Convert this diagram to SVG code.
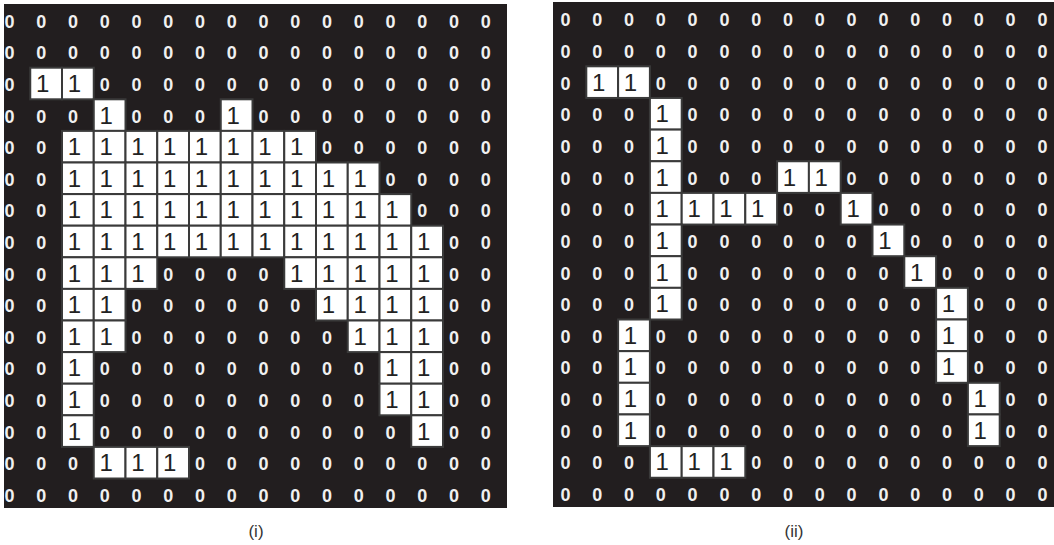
<svg xmlns="http://www.w3.org/2000/svg" width="1054" height="545" viewBox="0 0 1054 545">
<style>
.bg{fill:#221e1f}
.c{fill:#fff;stroke:#3a3a3a;stroke-width:2}
.z{font-family:"Liberation Sans",Arial,sans-serif;font-weight:bold;font-size:18px;fill:#f0f0f0;text-anchor:middle}
.o{font-family:"Liberation Sans",Arial,sans-serif;font-size:24px;fill:#222;text-anchor:middle}
.lbl{font-family:"Liberation Sans",Arial,sans-serif;font-size:17px;fill:#333;text-anchor:middle}
</style>
<defs>
<rect id="cl" class="c" width="31.75" height="31.6"/>
<rect id="cr" class="c" width="31.8" height="31.65"/>
</defs>
<rect width="1054" height="545" fill="#fff"/>

<g id="panel-i">
<rect class="bg" x="4" y="4" width="503" height="504"/>
<g id="cells-i">
<use href="#cl" x="30.25" y="67.7"/><use href="#cl" x="62" y="67.7"/>
<use href="#cl" x="93.75" y="99.3"/><use href="#cl" x="220.75" y="99.3"/>
<use href="#cl" x="62" y="130.9"/><use href="#cl" x="93.75" y="130.9"/><use href="#cl" x="125.5" y="130.9"/><use href="#cl" x="157.25" y="130.9"/><use href="#cl" x="189" y="130.9"/><use href="#cl" x="220.75" y="130.9"/><use href="#cl" x="252.5" y="130.9"/><use href="#cl" x="284.25" y="130.9"/>
<use href="#cl" x="62" y="162.5"/><use href="#cl" x="93.75" y="162.5"/><use href="#cl" x="125.5" y="162.5"/><use href="#cl" x="157.25" y="162.5"/><use href="#cl" x="189" y="162.5"/><use href="#cl" x="220.75" y="162.5"/><use href="#cl" x="252.5" y="162.5"/><use href="#cl" x="284.25" y="162.5"/><use href="#cl" x="316" y="162.5"/><use href="#cl" x="347.75" y="162.5"/>
<use href="#cl" x="62" y="194.1"/><use href="#cl" x="93.75" y="194.1"/><use href="#cl" x="125.5" y="194.1"/><use href="#cl" x="157.25" y="194.1"/><use href="#cl" x="189" y="194.1"/><use href="#cl" x="220.75" y="194.1"/><use href="#cl" x="252.5" y="194.1"/><use href="#cl" x="284.25" y="194.1"/><use href="#cl" x="316" y="194.1"/><use href="#cl" x="347.75" y="194.1"/><use href="#cl" x="379.5" y="194.1"/>
<use href="#cl" x="62" y="225.7"/><use href="#cl" x="93.75" y="225.7"/><use href="#cl" x="125.5" y="225.7"/><use href="#cl" x="157.25" y="225.7"/><use href="#cl" x="189" y="225.7"/><use href="#cl" x="220.75" y="225.7"/><use href="#cl" x="252.5" y="225.7"/><use href="#cl" x="284.25" y="225.7"/><use href="#cl" x="316" y="225.7"/><use href="#cl" x="347.75" y="225.7"/><use href="#cl" x="379.5" y="225.7"/><use href="#cl" x="411.25" y="225.7"/>
<use href="#cl" x="62" y="257.3"/><use href="#cl" x="93.75" y="257.3"/><use href="#cl" x="125.5" y="257.3"/><use href="#cl" x="284.25" y="257.3"/><use href="#cl" x="316" y="257.3"/><use href="#cl" x="347.75" y="257.3"/><use href="#cl" x="379.5" y="257.3"/><use href="#cl" x="411.25" y="257.3"/>
<use href="#cl" x="62" y="288.9"/><use href="#cl" x="93.75" y="288.9"/><use href="#cl" x="316" y="288.9"/><use href="#cl" x="347.75" y="288.9"/><use href="#cl" x="379.5" y="288.9"/><use href="#cl" x="411.25" y="288.9"/>
<use href="#cl" x="62" y="320.5"/><use href="#cl" x="93.75" y="320.5"/><use href="#cl" x="347.75" y="320.5"/><use href="#cl" x="379.5" y="320.5"/><use href="#cl" x="411.25" y="320.5"/>
<use href="#cl" x="62" y="352.1"/><use href="#cl" x="379.5" y="352.1"/><use href="#cl" x="411.25" y="352.1"/>
<use href="#cl" x="62" y="383.7"/><use href="#cl" x="379.5" y="383.7"/><use href="#cl" x="411.25" y="383.7"/>
<use href="#cl" x="62" y="415.3"/><use href="#cl" x="411.25" y="415.3"/>
<use href="#cl" x="93.75" y="446.9"/><use href="#cl" x="125.5" y="446.9"/><use href="#cl" x="157.25" y="446.9"/>
</g>
<g id="digits-i">
<text class="z" x="9.4 41.2 72.9 104.7 136.4 168.2 199.9 231.7 263.4 295.2 326.9 358.7 390.4 422.2 453.9 485.7" y="27.8">0000000000000000</text>
<text class="z" x="9.4 41.2 72.9 104.7 136.4 168.2 199.9 231.7 263.4 295.2 326.9 358.7 390.4 422.2 453.9 485.7" y="59.4">0000000000000000</text>
<text class="z" x="9.4" y="91">0</text><text class="o" x="42.7 74.4" y="92">11</text><text class="z" x="104.7 136.4 168.2 199.9 231.7 263.4 295.2 326.9 358.7 390.4 422.2 453.9 485.7" y="91">0000000000000</text>
<text class="z" x="9.4 41.2 72.9" y="122.6">000</text><text class="o" x="106.2" y="123.6">1</text><text class="z" x="136.4 168.2 199.9" y="122.6">000</text><text class="o" x="233.2" y="123.6">1</text><text class="z" x="263.4 295.2 326.9 358.7 390.4 422.2 453.9 485.7" y="122.6">00000000</text>
<text class="z" x="9.4 41.2" y="154.2">00</text><text class="o" x="74.4 106.2 137.9 169.7 201.4 233.2 264.9 296.7" y="155.2">11111111</text><text class="z" x="326.9 358.7 390.4 422.2 453.9 485.7" y="154.2">000000</text>
<text class="z" x="9.4 41.2" y="185.8">00</text><text class="o" x="74.4 106.2 137.9 169.7 201.4 233.2 264.9 296.7 328.4 360.2" y="186.8">1111111111</text><text class="z" x="390.4 422.2 453.9 485.7" y="185.8">0000</text>
<text class="z" x="9.4 41.2" y="217.4">00</text><text class="o" x="74.4 106.2 137.9 169.7 201.4 233.2 264.9 296.7 328.4 360.2 391.9" y="218.4">11111111111</text><text class="z" x="422.2 453.9 485.7" y="217.4">000</text>
<text class="z" x="9.4 41.2" y="249">00</text><text class="o" x="74.4 106.2 137.9 169.7 201.4 233.2 264.9 296.7 328.4 360.2 391.9 423.7" y="250">111111111111</text><text class="z" x="453.9 485.7" y="249">00</text>
<text class="z" x="9.4 41.2" y="280.6">00</text><text class="o" x="74.4 106.2 137.9" y="281.6">111</text><text class="z" x="168.2 199.9 231.7 263.4" y="280.6">0000</text><text class="o" x="296.7 328.4 360.2 391.9 423.7" y="281.6">11111</text><text class="z" x="453.9 485.7" y="280.6">00</text>
<text class="z" x="9.4 41.2" y="312.2">00</text><text class="o" x="74.4 106.2" y="313.2">11</text><text class="z" x="136.4 168.2 199.9 231.7 263.4 295.2" y="312.2">000000</text><text class="o" x="328.4 360.2 391.9 423.7" y="313.2">1111</text><text class="z" x="453.9 485.7" y="312.2">00</text>
<text class="z" x="9.4 41.2" y="343.8">00</text><text class="o" x="74.4 106.2" y="344.8">11</text><text class="z" x="136.4 168.2 199.9 231.7 263.4 295.2 326.9" y="343.8">0000000</text><text class="o" x="360.2 391.9 423.7" y="344.8">111</text><text class="z" x="453.9 485.7" y="343.8">00</text>
<text class="z" x="9.4 41.2" y="375.4">00</text><text class="o" x="74.4" y="376.4">1</text><text class="z" x="104.7 136.4 168.2 199.9 231.7 263.4 295.2 326.9 358.7" y="375.4">000000000</text><text class="o" x="391.9 423.7" y="376.4">11</text><text class="z" x="453.9 485.7" y="375.4">00</text>
<text class="z" x="9.4 41.2" y="407">00</text><text class="o" x="74.4" y="408">1</text><text class="z" x="104.7 136.4 168.2 199.9 231.7 263.4 295.2 326.9 358.7" y="407">000000000</text><text class="o" x="391.9 423.7" y="408">11</text><text class="z" x="453.9 485.7" y="407">00</text>
<text class="z" x="9.4 41.2" y="438.6">00</text><text class="o" x="74.4" y="439.6">1</text><text class="z" x="104.7 136.4 168.2 199.9 231.7 263.4 295.2 326.9 358.7 390.4" y="438.6">0000000000</text><text class="o" x="423.7" y="439.6">1</text><text class="z" x="453.9 485.7" y="438.6">00</text>
<text class="z" x="9.4 41.2 72.9" y="470.2">000</text><text class="o" x="106.2 137.9 169.7" y="471.2">111</text><text class="z" x="199.9 231.7 263.4 295.2 326.9 358.7 390.4 422.2 453.9 485.7" y="470.2">0000000000</text>
<text class="z" x="9.4 41.2 72.9 104.7 136.4 168.2 199.9 231.7 263.4 295.2 326.9 358.7 390.4 422.2 453.9 485.7" y="501.8">0000000000000000</text>
</g>
<text id="label-i" class="lbl" x="256" y="537">(i)</text>
</g>

<g id="panel-ii">
<rect class="bg" x="553" y="2" width="501" height="505"/>
<g id="cells-ii">
<use href="#cr" x="586.3" y="66.3"/><use href="#cr" x="618.1" y="66.3"/>
<use href="#cr" x="649.9" y="97.95"/>
<use href="#cr" x="649.9" y="129.6"/>
<use href="#cr" x="649.9" y="161.25"/><use href="#cr" x="777.1" y="161.25"/><use href="#cr" x="808.9" y="161.25"/>
<use href="#cr" x="649.9" y="192.9"/><use href="#cr" x="681.7" y="192.9"/><use href="#cr" x="713.5" y="192.9"/><use href="#cr" x="745.3" y="192.9"/><use href="#cr" x="840.7" y="192.9"/>
<use href="#cr" x="649.9" y="224.55"/><use href="#cr" x="872.5" y="224.55"/>
<use href="#cr" x="649.9" y="256.2"/><use href="#cr" x="904.3" y="256.2"/>
<use href="#cr" x="649.9" y="287.85"/><use href="#cr" x="936.1" y="287.85"/>
<use href="#cr" x="618.1" y="319.5"/><use href="#cr" x="936.1" y="319.5"/>
<use href="#cr" x="618.1" y="351.15"/><use href="#cr" x="936.1" y="351.15"/>
<use href="#cr" x="618.1" y="382.8"/><use href="#cr" x="967.9" y="382.8"/>
<use href="#cr" x="618.1" y="414.45"/><use href="#cr" x="967.9" y="414.45"/>
<use href="#cr" x="649.9" y="446.1"/><use href="#cr" x="681.7" y="446.1"/><use href="#cr" x="713.5" y="446.1"/>
</g>
<g id="digits-ii">
<text class="z" x="565.4 597.2 629 660.8 692.6 724.4 756.2 788 819.8 851.6 883.4 915.2 947 978.8 1010.6 1042.4" y="26.3">0000000000000000</text>
<text class="z" x="565.4 597.2 629 660.8 692.6 724.4 756.2 788 819.8 851.6 883.4 915.2 947 978.8 1010.6 1042.4" y="57.95">0000000000000000</text>
<text class="z" x="565.4" y="89.6">0</text><text class="o" x="598.7 630.5" y="90.6">11</text><text class="z" x="660.8 692.6 724.4 756.2 788 819.8 851.6 883.4 915.2 947 978.8 1010.6 1042.4" y="89.6">0000000000000</text>
<text class="z" x="565.4 597.2 629" y="121.25">000</text><text class="o" x="662.3" y="122.25">1</text><text class="z" x="692.6 724.4 756.2 788 819.8 851.6 883.4 915.2 947 978.8 1010.6 1042.4" y="121.25">000000000000</text>
<text class="z" x="565.4 597.2 629" y="152.9">000</text><text class="o" x="662.3" y="153.9">1</text><text class="z" x="692.6 724.4 756.2 788 819.8 851.6 883.4 915.2 947 978.8 1010.6 1042.4" y="152.9">000000000000</text>
<text class="z" x="565.4 597.2 629" y="184.55">000</text><text class="o" x="662.3" y="185.55">1</text><text class="z" x="692.6 724.4 756.2" y="184.55">000</text><text class="o" x="789.5 821.3" y="185.55">11</text><text class="z" x="851.6 883.4 915.2 947 978.8 1010.6 1042.4" y="184.55">0000000</text>
<text class="z" x="565.4 597.2 629" y="216.2">000</text><text class="o" x="662.3 694.1 725.9 757.7" y="217.2">1111</text><text class="z" x="788 819.8" y="216.2">00</text><text class="o" x="853.1" y="217.2">1</text><text class="z" x="883.4 915.2 947 978.8 1010.6 1042.4" y="216.2">000000</text>
<text class="z" x="565.4 597.2 629" y="247.85">000</text><text class="o" x="662.3" y="248.85">1</text><text class="z" x="692.6 724.4 756.2 788 819.8 851.6" y="247.85">000000</text><text class="o" x="884.9" y="248.85">1</text><text class="z" x="915.2 947 978.8 1010.6 1042.4" y="247.85">00000</text>
<text class="z" x="565.4 597.2 629" y="279.5">000</text><text class="o" x="662.3" y="280.5">1</text><text class="z" x="692.6 724.4 756.2 788 819.8 851.6 883.4" y="279.5">0000000</text><text class="o" x="916.7" y="280.5">1</text><text class="z" x="947 978.8 1010.6 1042.4" y="279.5">0000</text>
<text class="z" x="565.4 597.2 629" y="311.15">000</text><text class="o" x="662.3" y="312.15">1</text><text class="z" x="692.6 724.4 756.2 788 819.8 851.6 883.4 915.2" y="311.15">00000000</text><text class="o" x="948.5" y="312.15">1</text><text class="z" x="978.8 1010.6 1042.4" y="311.15">000</text>
<text class="z" x="565.4 597.2" y="342.8">00</text><text class="o" x="630.5" y="343.8">1</text><text class="z" x="660.8 692.6 724.4 756.2 788 819.8 851.6 883.4 915.2" y="342.8">000000000</text><text class="o" x="948.5" y="343.8">1</text><text class="z" x="978.8 1010.6 1042.4" y="342.8">000</text>
<text class="z" x="565.4 597.2" y="374.45">00</text><text class="o" x="630.5" y="375.45">1</text><text class="z" x="660.8 692.6 724.4 756.2 788 819.8 851.6 883.4 915.2" y="374.45">000000000</text><text class="o" x="948.5" y="375.45">1</text><text class="z" x="978.8 1010.6 1042.4" y="374.45">000</text>
<text class="z" x="565.4 597.2" y="406.1">00</text><text class="o" x="630.5" y="407.1">1</text><text class="z" x="660.8 692.6 724.4 756.2 788 819.8 851.6 883.4 915.2 947" y="406.1">0000000000</text><text class="o" x="980.3" y="407.1">1</text><text class="z" x="1010.6 1042.4" y="406.1">00</text>
<text class="z" x="565.4 597.2" y="437.75">00</text><text class="o" x="630.5" y="438.75">1</text><text class="z" x="660.8 692.6 724.4 756.2 788 819.8 851.6 883.4 915.2 947" y="437.75">0000000000</text><text class="o" x="980.3" y="438.75">1</text><text class="z" x="1010.6 1042.4" y="437.75">00</text>
<text class="z" x="565.4 597.2 629" y="469.4">000</text><text class="o" x="662.3 694.1 725.9" y="470.4">111</text><text class="z" x="756.2 788 819.8 851.6 883.4 915.2 947 978.8 1010.6 1042.4" y="469.4">0000000000</text>
<text class="z" x="565.4 597.2 629 660.8 692.6 724.4 756.2 788 819.8 851.6 883.4 915.2 947 978.8 1010.6 1042.4" y="501.05">0000000000000000</text>
</g>
<text id="label-ii" class="lbl" x="794" y="537">(ii)</text>
</g>
</svg>
